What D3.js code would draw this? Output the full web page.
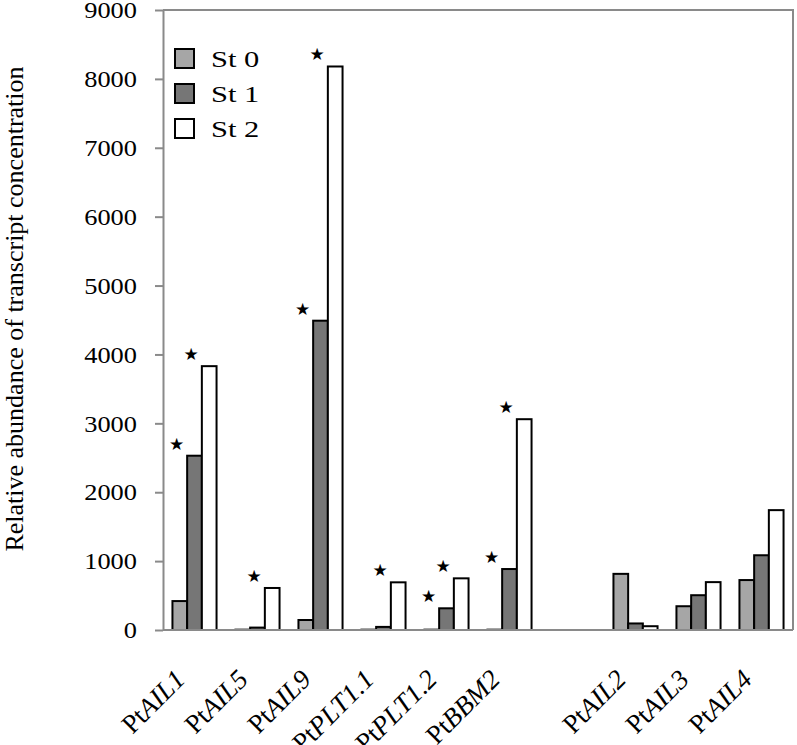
<!DOCTYPE html>
<html>
<head>
<meta charset="utf-8">
<script src="https://cdn.jsdelivr.net/npm/d3@7"></script>
<style>
  body { margin: 0; background: #fff; }
  svg { display: block; font-family: "Liberation Serif", "Times New Roman", serif; }
</style>
</head>
<body>
<div id="chart"></div>
<script>
// gene names (prefix "Pt" in roman, the rest in italics)
const genes = ['AIL1', 'AIL5', 'AIL9', 'PLT1.1', 'PLT1.2', 'BBM2', 'AIL2', 'AIL3', 'AIL4']
const series = ['St 0', 'St 1', 'St 2']
const st0 = [420, 5, 145, 5, 5, 5, 815, 345, 725]
const st1 = [2530, 35, 4490, 45, 315, 885, 95, 505, 1085]
const st2 = [3830, 610, 8180, 692, 750, 3060, 55, 695, 1740]
// which stages carry a significance star, per gene
const starred = [[1, 2], [2], [1, 2], [2], [1, 2], [1, 2], [], [], []]
const yTicks = [0, 1000, 2000, 3000, 4000, 5000, 6000, 7000, 8000, 9000]

const colors = ['#a6a6a6', '#767676', '#ffffff']
const width = 797, height = 745
const plotL = 163, plotR = 793, plotT = 10, plotB = 630

// empty slot between the two groups of genes
const slots = [...genes.slice(0, 6), 'gap', ...genes.slice(6)]

const svg = d3.select('#chart').append('svg')
  .attr('width', width)
  .attr('height', height)

const x = d3.scaleBand()
  .domain(slots)
  .range([plotL, plotR])
  .paddingInner(0.3)
  .paddingOuter(0.15)

const xs = d3.scaleBand()
  .domain(d3.range(3))
  .range([0, x.bandwidth()])

const y = d3.scaleLinear()
  .domain([0, 9000])
  .range([plotB, plotT])

// frame (top + right)
svg.append('path')
  .attr('d', `M${plotL},${plotT}H${plotR}V${plotB}`)
  .attr('fill', 'none')
  .attr('stroke', '#8a8a8a')
  .attr('stroke-width', 2)

// y axis
const yAxis = svg.append('g')
  .attr('transform', `translate(${plotL},0)`)
  .call(d3.axisLeft(y).tickValues(yTicks).tickFormat(d3.format('d')).tickSize(8).tickSizeOuter(0))
yAxis.select('.domain').attr('stroke', '#8a8a8a').attr('stroke-width', 2)
yAxis.selectAll('.tick line').attr('stroke', '#8a8a8a').attr('stroke-width', 2)
yAxis.selectAll('.tick text')
  .attr('x', 0)
  .attr('transform', 'translate(-26,0) scale(1.1,1)')
  .attr('font-family', '"Liberation Serif", "Times New Roman", serif')
  .attr('font-size', 24)
  .attr('fill', '#000')

// y title
svg.append('text')
  .attr('transform', 'translate(23,309) rotate(-90)')
  .attr('text-anchor', 'middle')
  .attr('font-size', 26)
  .text('Relative abundance of transcript concentration')

// bars
const rows = genes.map((g, i) => ({ gene: g, vals: [st0[i], st1[i], st2[i]], stars: starred[i] }))

const groups = svg.selectAll('g.gene')
  .data(rows)
  .enter()
  .append('g')
  .attr('class', 'gene')
  .attr('transform', d => `translate(${x(d.gene)},0)`)

groups.selectAll('rect')
  .data(d => d.vals.map((v, k) => ({ v, k })))
  .enter()
  .append('rect')
  .attr('x', d => xs(d.k))
  .attr('y', d => y(d.v))
  .attr('width', xs.bandwidth())
  .attr('height', d => y(0) - y(d.v))
  .attr('fill', d => colors[d.k])
  .attr('stroke', '#000')
  .attr('stroke-width', 2)

// significance stars
groups.selectAll('text.star')
  .data(d => d.stars.map(k => ({ k, v: d.vals[k] })))
  .enter()
  .append('text')
  .attr('class', 'star')
  .attr('x', d => xs(d.k) + xs.bandwidth() / 2 - 18)
  .attr('y', d => y(d.v) - 6)
  .attr('text-anchor', 'middle')
  .attr('font-family', '"DejaVu Sans", sans-serif')
  .attr('font-size', 17)
  .text('★')

// baseline
svg.append('line')
  .attr('x1', plotL).attr('x2', plotR)
  .attr('y1', y(0)).attr('y2', y(0))
  .attr('stroke', '#8a8a8a')
  .attr('stroke-width', 2)

// x labels
const labels = svg.selectAll('text.xlab')
  .data(genes)
  .enter()
  .append('text')
  .attr('class', 'xlab')
  .attr('text-anchor', 'end')
  .attr('font-size', 27)
  .attr('transform', d => `translate(${x(d) + x.bandwidth() / 2 - 8},681) rotate(-45)`)
labels.append('tspan').text('Pt')
labels.append('tspan').attr('font-style', 'italic').text(d => d)

// legend
const legend = svg.append('g').attr('transform', 'translate(175,49)')
series.forEach((s, i) => {
  const row = legend.append('g').attr('transform', `translate(0,${i * 35})`)
  row.append('rect')
    .attr('width', 19).attr('height', 19)
    .attr('fill', colors[i])
    .attr('stroke', '#000')
    .attr('stroke-width', 2)
  row.append('text')
    .attr('transform', 'translate(36,18) scale(1.27,1)')
    .attr('font-size', 24)
    .text(s)
})
</script>
</body>
</html>
